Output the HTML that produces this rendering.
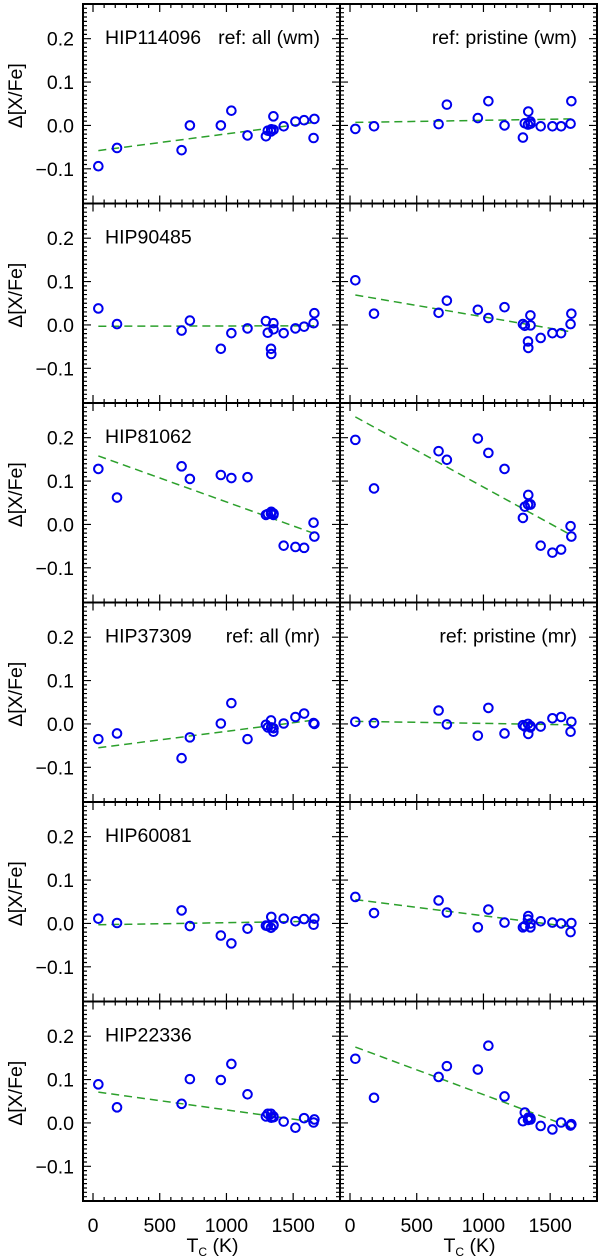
<!DOCTYPE html>
<html><head><meta charset="utf-8"><style>
html,body{margin:0;padding:0;background:#fff;}
svg{display:block;font-family:"Liberation Sans",Arial,sans-serif;}
</style></head><body>
<svg id="chart" width="600" height="1257" viewBox="0 0 600 1257" xmlns="http://www.w3.org/2000/svg"></svg>
<script>
const elements = ["C","O","S","Zn","Na","Cu","Mn","Cr","Si","Fe","Mg","Co","Ni","V","Ca","Ti","Al","Sc"];
const tcValues = [40,180,664,726,958,1037,1158,1296,1310,1334,1336,1352,1353,1429,1517,1582,1653,1659];
const starNames = ["HIP114096","HIP90485","HIP81062","HIP37309","HIP60081","HIP22336"];
const leftLabels = ["ref: all (wm)","","","ref: all (mr)","",""];
const rightLabels = ["ref: pristine (wm)","","","ref: pristine (mr)","",""];
const yTickValues = [-0.1,0.0,0.1,0.2];
const yTickLabels = ["\u22120.1","0.0","0.1","0.2"];
const xTickValues = [0,500,1000,1500];
const xTickLabels = ["0","500","1000","1500"];
const row1Left  = [-0.094,-0.052,-0.057,0.000,0.000,0.034,-0.023,-0.025,-0.012,-0.014,-0.009,0.021,-0.010,-0.002,0.009,0.012,-0.029,0.015];
const row1Right = [-0.008,-0.002,0.003,0.048,0.017,0.056,0.000,-0.028,0.005,0.002,0.032,0.009,0.004,-0.002,-0.002,-0.002,0.004,0.056];
const row2Left  = [0.038,0.002,-0.013,0.010,-0.055,-0.019,-0.008,0.009,-0.018,-0.055,-0.067,0.004,-0.010,-0.019,-0.008,-0.004,0.004,0.027];
const row2Right = [0.103,0.026,0.028,0.056,0.035,0.016,0.041,0.002,-0.002,-0.038,-0.053,0.022,-0.001,-0.030,-0.019,-0.019,0.002,0.026];
const row3Left  = [0.128,0.062,0.134,0.105,0.114,0.107,0.109,0.022,0.024,0.025,0.029,0.022,0.025,-0.049,-0.052,-0.054,0.004,-0.028];
const row3Right = [0.195,0.083,0.169,0.149,0.198,0.165,0.128,0.015,0.041,0.046,0.068,0.046,0.046,-0.049,-0.065,-0.058,-0.004,-0.028];
const row4Left  = [-0.035,-0.022,-0.079,-0.031,0.001,0.048,-0.035,-0.002,-0.008,0.008,-0.008,-0.018,-0.010,0.001,0.016,0.024,0.002,0.000];
const row4Right = [0.005,0.002,0.031,-0.001,-0.027,0.037,-0.022,-0.003,-0.006,0.000,-0.023,-0.008,-0.005,-0.006,0.013,0.016,-0.018,0.005];
const row5Left  = [0.011,0.001,0.030,-0.006,-0.028,-0.046,-0.012,-0.005,-0.006,-0.010,0.015,-0.005,-0.003,0.011,0.005,0.010,-0.003,0.011];
const row5Right = [0.061,0.024,0.053,0.025,-0.009,0.032,0.002,-0.009,-0.006,0.009,0.017,-0.009,0.000,0.005,0.002,0.000,-0.020,0.001];
const row6Left  = [0.089,0.036,0.044,0.101,0.099,0.136,0.066,0.015,0.021,0.021,0.012,0.015,0.013,0.003,-0.011,0.011,0.001,0.008];
const row6Right = [0.148,0.058,0.106,0.131,0.123,0.178,0.061,0.004,0.024,0.007,0.012,0.011,0.008,-0.007,-0.015,0.001,-0.006,-0.003];
const fitStartLeft  = [-0.058,-0.003,0.158,-0.055,-0.003,0.071];
const fitEndLeft    = [0.007,-0.002,-0.021,0.009,0.005,0.002];
const fitStartRight = [0.007,0.069,0.248,0.006,0.055,0.175];
const fitEndRight   = [0.015,-0.016,-0.025,-0.002,-0.008,-0.010];

const seriesGrid = [[row1Left,row1Right],[row2Left,row2Right],[row3Left,row3Right],[row4Left,row4Right],[row5Left,row5Right],[row6Left,row6Right]];

const NS="http://www.w3.org/2000/svg";
const svg=document.getElementById('chart');
const colX=[83,340], colW=257, rowTop=4, rowH=199.5;
const xMin=-75, xMax=1851, yMin=-0.18, yMax=0.28;
const FS=19.5;
function xScale(col,t){return colX[col]+(t-xMin)/(xMax-xMin)*colW;}
function yScale(row,v){return rowTop+row*rowH+(yMax-v)/(yMax-yMin)*rowH;}
function mk(tag,attrs,parent){const e=document.createElementNS(NS,tag);for(const k in attrs)e.setAttribute(k,attrs[k]);(parent||svg).appendChild(e);return e;}

for(let r=0;r<6;r++){
  for(let c=0;c<2;c++){
    const g=mk('g',{});
    
    
    const x0=colX[c], x1=colX[c]+colW, y0=rowTop+r*rowH, y1=y0+rowH;
    let d='';
    for(let t=0;t<=1800;t+=500/6){const x=xScale(c,t);if(x<x0+1||x>x1-1)continue;const major=Math.abs(t/500-Math.round(t/500))<1e-6;const L=major?8:4;d+=`M${x},${y1}v${-L}M${x},${y0}v${L}`;}
    for(let k=-18;k<=28;k++){const v=k/100;const y=yScale(r,v);if(y<y0+1||y>y1-1)continue;const major=k%10===0;const L=major?8:4;d+=`M${x0},${y}h${L}M${x1},${y}h${-L}`;}
    const ticks=mk('path',{d:d,stroke:'#000','stroke-width':1.2,fill:'none'},g);
    
    
    const frame=mk('rect',{x:x0,y:y0,width:colW,height:rowH,fill:'none',stroke:'#000','stroke-width':2},g);
    
    
    const fs=c===0?fitStartLeft[r]:fitStartRight[r], fe=c===0?fitEndLeft[r]:fitEndRight[r];
    const t0=tcValues[0], t1=tcValues[tcValues.length-1];
    const fit=mk('line',{x1:xScale(c,t0),y1:yScale(r,fs),x2:xScale(c,t1),y2:yScale(r,fe),stroke:'#2ca02c','stroke-width':1.5,'stroke-dasharray':'8,5'},g);
    
    
    const vals=seriesGrid[r][c];
    vals.forEach((v,i)=>{
      const p=mk('circle',{cx:xScale(c,tcValues[i]),cy:yScale(r,v),r:4.3,fill:'none',stroke:'#0000ee','stroke-width':2},g);
      
      
    });
    if(c===0){
      const n=mk('text',{x:105,y:y0+40,'font-size':FS},g);n.textContent=starNames[r];
      
      
      if(leftLabels[r]){const l=mk('text',{x:x1-20,y:y0+40,'font-size':FS,'text-anchor':'end'},g);l.textContent=leftLabels[r];
        
        }
      yTickValues.forEach((v,i)=>{const t=mk('text',{x:74,y:yScale(r,v)+7,'font-size':FS,'text-anchor':'end'},g);t.textContent=yTickLabels[i];
        
        });
      const yc=y0+rowH/2-8;
      const yt=mk('text',{x:0,y:0,'font-size':FS,'text-anchor':'middle',transform:`translate(22,${yc}) rotate(-90)`},g);yt.textContent='\u0394[X/Fe]';
      
      
    } else if(rightLabels[r]){
      const l=mk('text',{x:x1-20,y:y0+40,'font-size':FS,'text-anchor':'end'},g);l.textContent=rightLabels[r];
      
      
    }
    if(r===5){
      xTickValues.forEach((v,i)=>{const t=mk('text',{x:xScale(c,v),y:1232,'font-size':FS,'text-anchor':'middle'},g);t.textContent=xTickLabels[i];
        
        });
      const xt=mk('text',{x:colX[c]+colW/2+1,y:1252,'font-size':FS,'text-anchor':'middle'},g);
      
      
      xt.innerHTML='T<tspan font-size="12" dy="4">C</tspan><tspan dy="-4"> (K)</tspan>';
    }
  }
}
</script>
</body></html>
